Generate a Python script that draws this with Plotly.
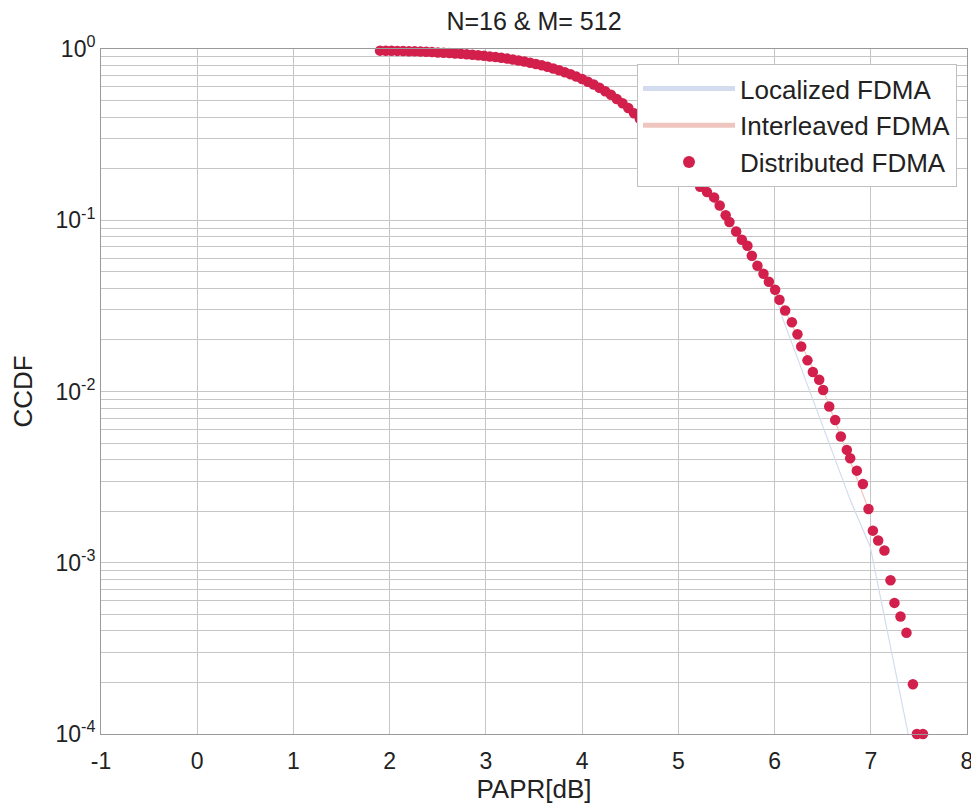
import plotly.graph_objects as go

# Distributed FDMA (dots)
dist_x = [1.90, 1.96, 2.02, 2.08, 2.14, 2.20, 2.26, 2.32, 2.38, 2.44, 2.50, 2.56, 2.62, 2.68,
          2.74, 2.80, 2.86, 2.92, 2.98, 3.04, 3.10, 3.16, 3.22, 3.28, 3.34, 3.40, 3.46, 3.52,
          3.58, 3.64, 3.70, 3.76, 3.82, 3.88, 3.94, 4.00, 4.06, 4.12, 4.18, 4.24, 4.30, 4.36,
          4.42, 4.48, 4.54, 4.60, 4.66, 4.72, 4.78, 4.84, 4.90, 4.96, 5.02, 5.08, 5.14,
          5.227, 5.298, 5.372, 5.430, 5.492, 5.531, 5.601, 5.660, 5.718, 5.764, 5.822, 5.885,
          5.941, 6.006, 6.051, 6.110, 6.180, 6.238, 6.277, 6.342, 6.398, 6.464, 6.505, 6.568,
          6.630, 6.689, 6.751, 6.786, 6.855, 6.918, 6.976, 7.022, 7.077, 7.142, 7.205, 7.246,
          7.309, 7.371, 7.438, 7.479, 7.542]
dist_y = [0.978, 0.977, 0.976, 0.975, 0.973, 0.971, 0.969, 0.966, 0.963, 0.959, 0.955, 0.951,
          0.947, 0.942, 0.937, 0.932, 0.926, 0.920, 0.913, 0.905, 0.897, 0.888, 0.879, 0.868,
          0.857, 0.845, 0.832, 0.818, 0.803, 0.787, 0.770, 0.752, 0.732, 0.712, 0.690, 0.668,
          0.644, 0.620, 0.594, 0.567, 0.540, 0.511, 0.482, 0.452, 0.421, 0.391, 0.362, 0.335,
          0.309, 0.284, 0.261, 0.239, 0.219, 0.200, 0.182,
          0.157, 0.146, 0.136, 0.122, 0.107, 0.0977, 0.0860, 0.0769, 0.0710, 0.0620, 0.0542,
          0.0487, 0.0437, 0.0393, 0.0343, 0.0297, 0.0254, 0.0216, 0.0183, 0.0152, 0.0130,
          0.0117, 0.0102, 0.00817, 0.00681, 0.00546, 0.00456, 0.00408, 0.00345, 0.00288,
          0.00206, 0.00154, 0.00135, 0.00118, 0.00079, 0.000583, 0.000485, 0.000390,
          0.000195, 0.0001, 0.0001]

# Localized FDMA (faint line)
loc_x = [1.90, 2.50, 3.00, 3.50, 4.00, 4.50, 5.00, 5.50, 6.00, 6.09, 6.50, 6.786, 6.994, 7.20, 7.389]
loc_y = [0.975, 0.953, 0.912, 0.822, 0.665, 0.437, 0.222, 0.104, 0.0385, 0.0262, 0.0063,
         0.00233, 0.00124, 0.000334, 0.0001]

# Interleaved FDMA (faint line, lying under the dots)
int_x = [1.90, 2.50, 3.00, 3.52, 4.00, 4.48, 5.02, 5.492, 6.006, 6.505, 6.976]
int_y = [0.978, 0.955, 0.913, 0.818, 0.668, 0.452, 0.219, 0.107, 0.0393, 0.0102, 0.00206]

x_ticks = [-1, 0, 1, 2, 3, 4, 5, 6, 7, 8]
y_ticks = [1e-4, 1e-3, 1e-2, 1e-1, 1]
y_ticktext = ["10<sup>-4</sup>", "10<sup>-3</sup>", "10<sup>-2</sup>", "10<sup>-1</sup>", "10<sup>0</sup>"]

FONT = "Liberation Sans, Arial, sans-serif"

fig = go.Figure()
fig.add_trace(go.Scatter(x=loc_x, y=loc_y, mode="lines", name="Localized FDMA", legendgroup="a",
                         line=dict(color="#d3dbef", width=1.2)))
fig.add_trace(go.Scatter(x=int_x, y=int_y, mode="lines", name="Interleaved FDMA", legendgroup="b",
                         line=dict(color="#efc6bf", width=1.2)))
fig.add_trace(go.Scatter(x=dist_x, y=dist_y, mode="markers", name="Distributed FDMA", legendgroup="c",
                         marker=dict(color="#d31f4b", size=10.5), cliponaxis=False))

grid = "#c6c6c6"
tick_font = dict(family=FONT, size=23, color="#222")
title_font = dict(family=FONT, size=26, color="#222")
fig.update_layout(
    width=971, height=796,
    margin=dict(l=93, r=12, t=41, b=70, autoexpand=False),
    paper_bgcolor="white", plot_bgcolor="white",
    font=dict(family=FONT, size=23, color="#222"),
    title=dict(text="N=16 & M= 512", x=(93 + 959) / 2 / 971, xanchor="center",
               y=1 - 13 / 796, yanchor="middle",
               font=dict(family=FONT, size=25, color="#222")),
    showlegend=True,
    legend=dict(x=(637 - 101) / 866, y=1 - (64 - 49) / 685, xanchor="left", yanchor="top",
                bgcolor="white", bordercolor="#c0c0c0", borderwidth=1,
                font=dict(family=FONT, size=26, color="#222"),
                tracegroupgap=0, itemwidth=92, itemsizing="constant"),
)
fig.update_xaxes(range=[-1, 8], tickvals=x_ticks, ticktext=[str(v) for v in x_ticks],
                 showgrid=True, gridcolor=grid, gridwidth=1, zeroline=False, automargin=False,
                 showline=True, linecolor="#9a9a9a", mirror=True, ticks="", ticklabelstandoff=6,
                 title=dict(text="PAPR[dB]", standoff=4, font=title_font), tickfont=tick_font)
fig.update_yaxes(type="log", range=[-4, 0], tickvals=y_ticks, ticktext=y_ticktext,
                 showgrid=True, gridcolor=grid, gridwidth=1, zeroline=False, automargin=False,
                 showline=True, linecolor="#9a9a9a", mirror=True, ticks="",
                 minor=dict(dtick="D1", showgrid=True, gridcolor=grid, gridwidth=1, ticks=""),
                 title=dict(text="CCDF", standoff=16, font=title_font), tickfont=tick_font)

fig.write_html("out.html")
